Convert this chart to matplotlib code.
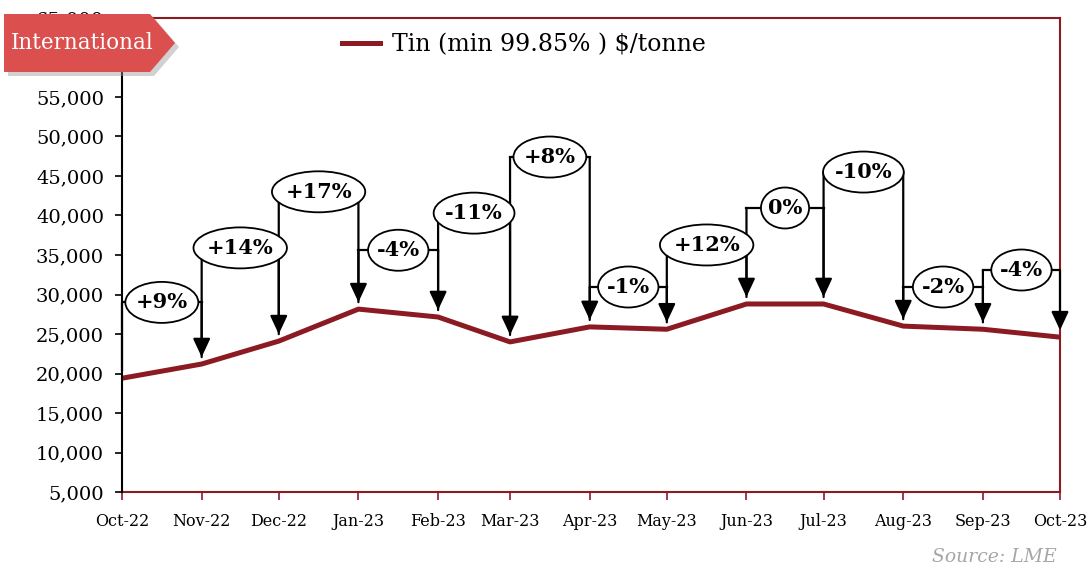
import pandas as pd
import matplotlib
matplotlib.use('Agg')
import matplotlib.pyplot as plt
import matplotlib.dates as mdates
from matplotlib.patches import Ellipse, Polygon

plt.rcParams['font.family'] = ['DejaVu Serif']

months = pd.date_range('2022-10-01', '2023-10-01', freq='MS')
tick_labels = ['Oct-22', 'Nov-22', 'Dec-22', 'Jan-23', 'Feb-23', 'Mar-23', 'Apr-23',
               'May-23', 'Jun-23', 'Jul-23', 'Aug-23', 'Sep-23', 'Oct-23']
tin_price = [19400, 21200, 24100, 28150, 27150, 24000, 25900, 25600, 28800, 28800, 26000, 25600, 24600]

# month-on-month change, shown in the bracket between two months
change_labels = ['+9%', '+14%', '+17%', '-4%', '-11%', '+8%', '-1%', '+12%', '0%', '-10%', '-2%', '-4%']
bracket_level = [29000, 35900, 43000, 35600, 40300, 47400, 30950, 36270, 40950, 45500, 30950, 33100]

line_red = '#8B1A22'

W, H = 1088, 569
fig = plt.figure(figsize=(W / 100, H / 100), dpi=100)
ax = fig.add_axes([122 / W, 1 - 492 / H, (1060 - 122) / W, (492 - 18) / H])

x = mdates.date2num(months)
ax.plot(x, tin_price, color=line_red, lw=3.6, zorder=3, label='Tin (min 99.85% ) $/tonne')

ax.set_xlim(x[0], x[-1])
ax.set_ylim(5000, 65000)
yt = list(range(5000, 65001, 5000))
ax.set_yticks(yt)
ax.set_yticklabels([f'{v:,}' for v in yt], fontsize=14)
# 60,000 sits under the "International" tag, as in the original
ax.get_yticklabels()[yt.index(60000)].set_visible(False)
ax.set_xticks(x)
ax.set_xticklabels(tick_labels, fontsize=11.5)
ax.tick_params(axis='y', direction='out', length=5, width=1.2, color='black', pad=8)
ax.tick_params(axis='x', direction='out', length=6, width=1.2, color=line_red, pad=9)

for side in ['top', 'right', 'bottom']:
    ax.spines[side].set_color(line_red)
    ax.spines[side].set_linewidth(1.5)
ax.spines['left'].set_color('black')
ax.spines['left'].set_linewidth(1.5)
ax.spines['left'].set_zorder(4)

# brackets with arrows
for i, lab in enumerate(change_labels):
    x0, x1 = x[i], x[i + 1]
    h = bracket_level[i]
    ax.annotate('', xy=(x0, tin_price[i]), xytext=(x0, h),
                arrowprops=dict(arrowstyle='-', color='black', lw=1.6, shrinkA=0, shrinkB=5), zorder=4)
    ax.plot([x0, x1], [h, h], color='black', lw=1.6, zorder=4)
    ax.annotate('', xy=(x1, tin_price[i + 1]), xytext=(x1, h),
                arrowprops=dict(arrowstyle='-|>,head_length=0.75,head_width=0.35', mutation_scale=15,
                                color='black', lw=1.6, shrinkA=0, shrinkB=5), zorder=4)

texts = []
for i, lab in enumerate(change_labels):
    xc = (x[i] + x[i + 1]) / 2
    t = ax.text(xc, bracket_level[i], lab, ha='center', va='center', fontsize=15,
                fontweight='bold', zorder=7)
    texts.append((xc, bracket_level[i], t))

fig.canvas.draw()
r = fig.canvas.get_renderer()
p0 = ax.transData.transform((x[0], 5000))
p1 = ax.transData.transform((x[0] + 1, 6000))
px_day = p1[0] - p0[0]
px_unit = (p1[1] - p0[1]) / 1000
for xc, yc, t in texts:
    bb = t.get_window_extent(r)
    e = Ellipse((xc, yc), bb.width * 1.4 / px_day, 41 / px_unit,
                facecolor='white', edgecolor='black', lw=1.3, zorder=6)
    ax.add_patch(e)

ax.legend(loc='center', bbox_to_anchor=(524 / W, 1 - 45 / H), bbox_transform=fig.transFigure,
          frameon=False, fontsize=17, handlelength=1.6, handletextpad=0.5)

# "International" tag
tag = [(4, 14), (150, 14), (175, 43), (150, 72), (4, 72)]
shadow = Polygon([((px + 4) / W, 1 - (py + 4) / H) for px, py in tag], closed=True,
                 transform=fig.transFigure, facecolor='#999999', alpha=0.45, edgecolor='none', zorder=10)
banner = Polygon([(px / W, 1 - py / H) for px, py in tag], closed=True,
                 transform=fig.transFigure, facecolor='#DB4F4F', edgecolor='none', zorder=11)
fig.patches.extend([shadow, banner])
fig.text(82 / W, 1 - 43 / H, 'International', color='white', fontsize=15.5, ha='center', va='center', zorder=12)

fig.text(1057 / W, 1 - 557 / H, 'Source: LME', ha='right', va='center', style='italic',
         color='#a6a6a6', fontsize=13.5)

fig.savefig('out.png', dpi=100)
